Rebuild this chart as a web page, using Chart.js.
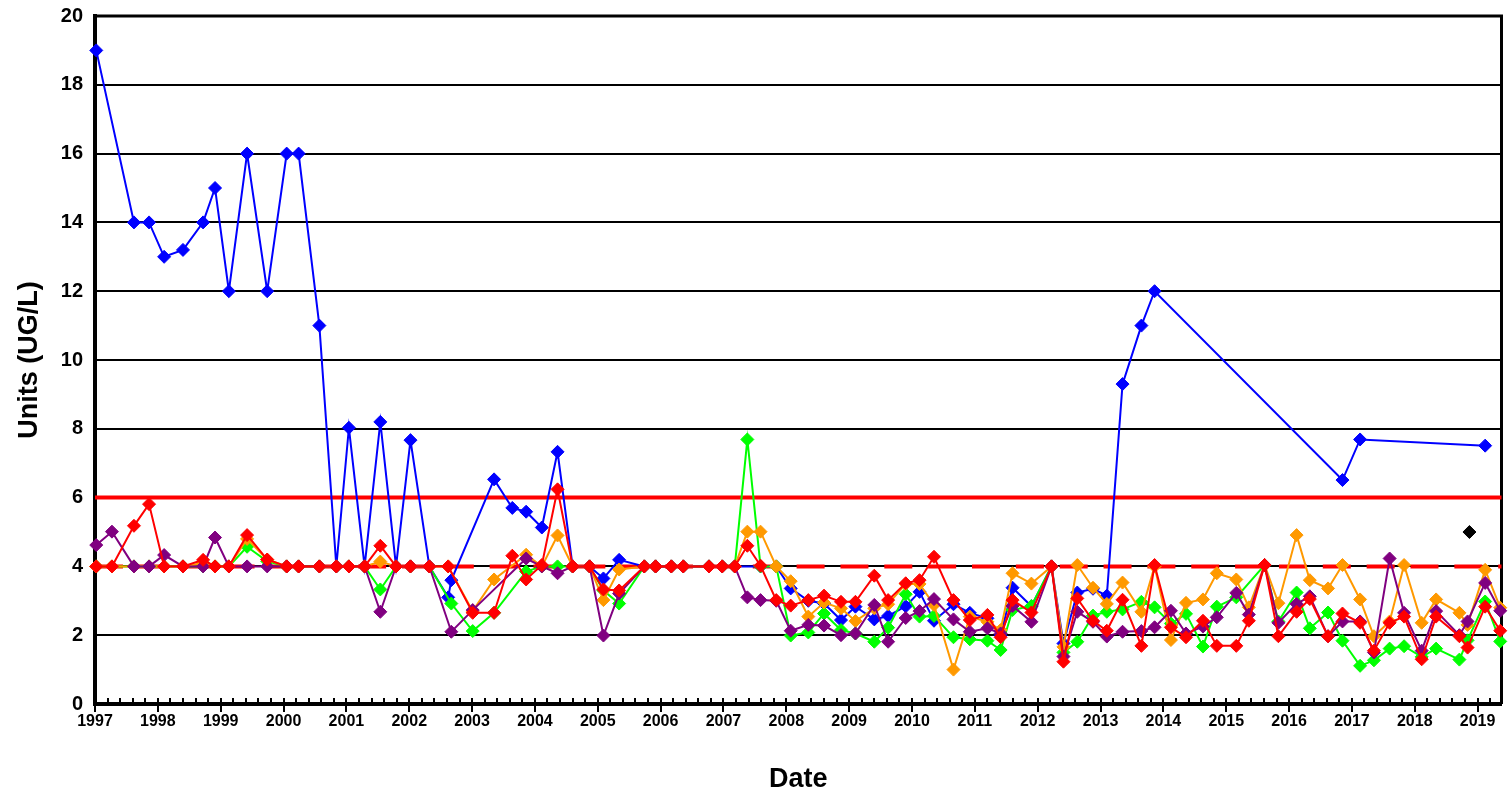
<!DOCTYPE html>
<html>
<head>
<meta charset="utf-8">
<title>Units (UG/L)</title>
<script src="https://cdn.jsdelivr.net/npm/chart.js@4.4.1/dist/chart.umd.min.js"></script>
<style>
  html, body { margin: 0; padding: 0; background: #fff; }
  #wrap { width: 1509px; height: 796px; }
</style>
</head>
<body>
<div id="wrap"><canvas id="chart" width="1509" height="796"></canvas></div>
<script>
// sample dates (decimal years) shared by the series
const sampleDates = [
  1997.02, 1997.27, 1997.62, 1997.86, 1998.10, 1998.40, 1998.72, 1998.91, 1999.13, 1999.42,
  1999.74, 2000.05, 2000.24, 2000.57, 2000.84, 2001.04, 2001.29, 2001.54, 2001.79, 2002.02,
  2002.32, 2002.62, 2002.67, 2003.01, 2003.35, 2003.64, 2003.86, 2004.11, 2004.36, 2004.60,
  2004.87, 2005.09, 2005.34, 2005.74, 2005.92, 2006.17, 2006.36, 2006.77, 2006.98, 2007.18,
  2007.38, 2007.59, 2007.84, 2008.07, 2008.35, 2008.60, 2008.87, 2009.10, 2009.40, 2009.62,
  2009.90, 2010.12, 2010.35, 2010.66, 2010.92, 2011.20, 2011.41, 2011.60, 2011.90, 2012.22,
  2012.41, 2012.63, 2012.88, 2013.10, 2013.35, 2013.65, 2013.86, 2014.12, 2014.36, 2014.63,
  2014.85, 2015.16, 2015.36, 2015.61, 2015.83, 2016.12, 2016.33, 2016.62, 2016.85, 2017.13,
  2017.35, 2017.60, 2017.83, 2018.11, 2018.34, 2018.71, 2018.84, 2019.12, 2019.36
];

const blueVals = [
  19, null, 14, 14, 13, 13.2, 14, 15, 12, 16,
  12, 16, 16, 11, 4, 8.03, 4, 8.2, 4, 7.67,
  4, 3.1, 3.6, null, 6.53, 5.7, 5.59, 5.13, 7.33, 4,
  4, 3.65, 4.19, 4, 4, 4, 4, 4, 4, 4,
  null, 4, 4, 3.36, 3.0, 2.92, 2.44, 2.83, 2.46, 2.56,
  2.84, 3.26, 2.42, 2.9, 2.65, 2.49, 2.0, 3.38, 2.84, 4,
  1.76, 3.24, 3.35, 3.15, 9.3, 11.0, 12.0, null, null, null,
  null, null, null, null, null, null, null, null, 6.51, 7.69,
  null, null, null, null, null, null, null, 7.51, null
];

const greenVals = [
  4, 4, 4, 4, 4, 4, 4, 4, 4, 4.57,
  4.15, 4, 4, 4, 4, 4, 4, 3.33, 4, 4,
  4, null, 2.92, 2.12, 2.65, null, 3.85, 4, 4, 4,
  4, 3.3, 2.92, 4, 4, 4, 4, 4, 4, 4,
  7.69, 4, 4, 1.99, 2.08, 2.63, 2.15, 2.05, 1.81, 2.22,
  3.19, 2.54, 2.56, 1.94, 1.88, 1.84, 1.57, 2.73, 2.85, 4,
  1.5, 1.81, 2.57, 2.68, 2.75, 2.97, 2.81, 2.34, 2.62, 1.67,
  2.83, 3.1, null, 4.04, 2.4, 3.24, 2.2, 2.66, 1.84, 1.11,
  1.27, 1.61, 1.68, 1.37, 1.61, 1.29, 1.85, 2.98, 1.82
];

const orangeVals = [
  4, 4, 4, 4, 4, 4, 4.1, 4, 4, 4.8,
  4.2, 4, 4, 4, 4, 4, 4, 4.14, 4, 4,
  4, 4, null, 2.7, 3.62, null, 4.34, 4, 4.9, 4,
  4, 3.02, 3.91, 4, 4, 4, 4, 4, 4, 4,
  5.01, 5.01, 4, 3.57, 2.54, 2.95, 2.78, 2.41, 2.78, 2.9,
  3.49, 3.49, 2.88, 1.0, 2.54, 2.39, 2.15, 3.8, 3.5, 4,
  1.66, 4.04, 3.38, 2.91, 3.53, 2.68, 4.0, 1.86, 2.94, 3.04,
  3.8, 3.62, 2.81, 4.04, 2.93, 4.91, 3.6, 3.36, 4.04, 3.04,
  1.97, 2.4, 4.04, 2.36, 3.04, 2.65, 2.3, 3.9, 2.8
];

const purpleVals = [
  4.62, 5.01, 4, 4, 4.33, 4, 4, 4.84, 4, 4,
  4, 4, 4, 4, 4, 4, 4, 2.68, 4, 4,
  4, null, 2.1, 2.73, null, null, 4.23, 4, 3.8, 4,
  4, 1.99, 3.21, 4, 4, 4, 4, 4, 4, 4,
  3.1, 3.02, 3.0, 2.13, 2.3, 2.28, 2.0, 2.05, 2.88, 1.81,
  2.5, 2.7, 3.05, 2.46, 2.1, 2.2, 2.05, 2.85, 2.39, 4,
  1.38, 2.68, 2.39, 1.96, 2.1, 2.12, 2.23, 2.71, 2.05, 2.25,
  2.52, 3.23, 2.6, 4.04, 2.36, 2.91, 3.13, 1.97, 2.4, 2.4,
  1.5, 4.23, 2.65, 1.55, 2.7, 2.0, 2.4, 3.52, 2.71
];

const redVals = [
  4, 4, 5.18, 5.81, 4, 4, 4.19, 4, 4, 4.91,
  4.2, 4, 4, 4, 4, 4, 4, 4.6, 4, 4,
  4, 4, null, 2.65, 2.65, 4.31, 3.62, 4.04, 6.24, 4,
  4, 3.33, 3.3, 4, 4, 4, 4, 4, 4, 4,
  4.6, 4.02, 3.02, 2.86, 3.02, 3.15, 2.97, 2.97, 3.73, 3.02,
  3.51, 3.6, 4.28, 3.02, 2.44, 2.59, 1.94, 3.02, 2.66, 4,
  1.23, 3.07, 2.42, 2.13, 3.03, 1.69, 4.04, 2.23, 1.94, 2.42,
  1.69, 1.69, 2.42, 4.04, 1.97, 2.68, 3.05, 1.97, 2.63, 2.36,
  1.55, 2.36, 2.54, 1.3, 2.54, 1.97, 1.64, 2.83, 2.13
];

// single extra sample
const blackDates = [2018.87];
const blackVals = [5.0];

// limit lines
const upperLimit = 6;
const lowerLimit = 4;

// axis ranges
const xMin = 1997;
const xMax = 2019.38;
const yMin = 0;
const yMax = 20;

function toPoints(dates, vals) {
  return dates.map((d, i) => ({ x: d, y: vals[i] })).filter(p => p.y !== null);
}

function seriesDataset(label, color, vals) {
  return {
    label,
    data: toPoints(sampleDates, vals),
    showLine: true,
    borderColor: color,
    backgroundColor: color,
    borderWidth: 2,
    pointStyle: 'rectRot',
    pointRadius: 6.5,
    pointBorderWidth: 1,
    pointBorderColor: color,
    pointBackgroundColor: color,
    spanGaps: true,
    clip: false,
  };
}

function limitDataset(value, dash) {
  return {
    label: 'limit ' + value,
    data: [{ x: xMin, y: value }, { x: xMax, y: value }],
    showLine: true,
    borderColor: '#ff0000',
    borderWidth: 4,
    borderDash: dash,
    pointRadius: 0,
    clip: false,
  };
}

// frame and the year / minor tick marks on the x axis
const axisMarks = {
  id: 'axisMarks',
  beforeDatasetsDraw(chart) {
    const { ctx, chartArea: a } = chart;
    const xs = chart.scales.x;
    ctx.save();
    ctx.strokeStyle = '#000';
    ctx.lineWidth = 3;
    ctx.beginPath();
    ctx.moveTo(a.left, a.top);
    ctx.lineTo(a.right, a.top);
    ctx.lineTo(a.right, a.bottom);
    ctx.stroke();

    ctx.lineWidth = 2;
    ctx.beginPath();
    for (let y = xMin; y <= xMax; y += 0.2) {
      const px = Math.round(xs.getPixelForValue(y));
      const isMajor = Math.abs(y - Math.round(y)) < 0.01;
      ctx.moveTo(px, a.bottom - 6);
      ctx.lineTo(px, isMajor ? a.bottom + 8 : a.bottom);
    }
    ctx.stroke();
    ctx.restore();
  }
};

const bold = (size) => ({ family: '"Liberation Sans", Arial, sans-serif', size, weight: 'bold' });

new Chart(document.getElementById('chart'), {
  type: 'scatter',
  data: {
    datasets: [
      seriesDataset('red', '#ff0000', redVals),
      seriesDataset('purple', '#800080', purpleVals),
      seriesDataset('orange', '#ff9900', orangeVals),
      seriesDataset('green', '#00ff00', greenVals),
      seriesDataset('blue', '#0000ff', blueVals),
      {
        label: 'black',
        data: toPoints(blackDates, blackVals),
        pointStyle: 'rectRot',
        pointRadius: 6.5,
        pointBorderWidth: 1,
        pointBorderColor: '#000',
        pointBackgroundColor: '#000',
        clip: false,
      },
      limitDataset(upperLimit, []),
      limitDataset(lowerLimit, [28, 15.85]),
    ],
  },
  options: {
    responsive: false,
    animation: false,
    layout: { padding: { left: 0, right: 6, top: 16, bottom: 0 } },
    plugins: {
      legend: { display: false },
      tooltip: { enabled: false },
    },
    scales: {
      x: {
        type: 'linear',
        min: xMin,
        max: xMax,
        afterFit(scale) {
          scale.height = 92;
          scale.paddingLeft = 0;
          scale.paddingRight = 0;
        },
        grid: { display: false, drawTicks: false },
        border: { display: true, color: '#000', width: 4 },
        ticks: {
          stepSize: 1,
          includeBounds: false,
          autoSkip: false,
          maxRotation: 0,
          padding: 8,
          color: '#000',
          font: bold(16),
          callback: (v) => String(v),
        },
        title: {
          display: true,
          text: 'Date',
          color: '#000',
          font: bold(27),
          padding: { top: 0, bottom: 0 },
        },
      },
      y: {
        min: yMin,
        max: yMax,
        afterFit(scale) {
          scale.width = 95;
          scale.paddingTop = 0;
          scale.paddingBottom = 0;
        },
        grid: { color: '#000', lineWidth: 2, drawTicks: false },
        border: { display: true, color: '#000', width: 4 },
        ticks: {
          stepSize: 2,
          padding: 12,
          color: '#000',
          font: bold(20),
        },
        title: {
          display: true,
          text: 'Units (UG/L)',
          color: '#000',
          font: bold(27),
          padding: { top: 13, bottom: 0 },
        },
      },
    },
  },
  plugins: [axisMarks],
});
</script>
</body>
</html>
